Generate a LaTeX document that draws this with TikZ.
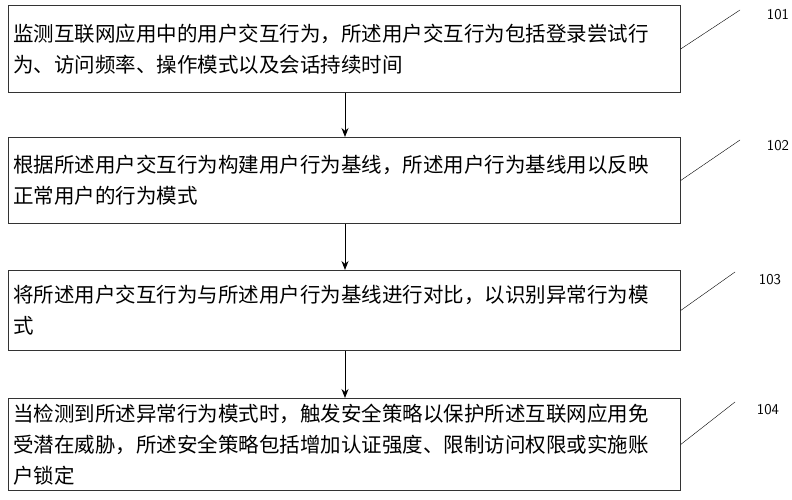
\documentclass[tikz,border=0pt]{standalone}
\usepackage{fontspec}
\newfontfamily\cjk{Noto Sans CJK SC}
\usetikzlibrary{arrows.meta}
\begin{document}
\begin{tikzpicture}[x=1pt,y=-1pt,
    stepbox/.style={draw=black!80, line width=0.8pt, anchor=north west, minimum width=672pt,
      text width=662pt, align=left, inner xsep=5pt, font=\cjk\fontsize{20.5}{31}\selectfont},
    tag/.style={font=\sffamily\fontsize{15}{15}\selectfont},
    flow/.style={-{Stealth[length=9pt,width=7pt]}, line width=1pt}]
    \useasboundingbox (0,0) rectangle (792,500);
    \node[stepbox, minimum height=87pt] (s1) at (8,5) {监测互联网应用中的用户交互行为，所述用户交互行为包括登录尝试行\\为、访问频率、操作模式以及会话持续时间};
    \node[stepbox, minimum height=86pt] (s2) at (8,137) {根据所述用户交互行为构建用户行为基线，所述用户行为基线用以反映\\正常用户的行为模式};
    \node[stepbox, minimum height=80pt] (s3) at (8,270) {将所述用户交互行为与所述用户行为基线进行对比，以识别异常行为模\\式};
    \node[stepbox, minimum height=92pt] (s4) at (8,398) {当检测到所述异常行为模式时，触发安全策略以保护所述互联网应用免\\受潜在威胁，所述安全策略包括增加认证强度、限制访问权限或实施账\\户锁定};
    % step numbers
    \node[tag] (t1) at (778,15) {101};
    \node[tag] (t2) at (778,146) {102};
    \node[tag] (t3) at (770,280) {103};
    \node[tag] (t4) at (768,410) {104};
    \coordinate (c1) at (740,10);
    \coordinate (c2) at (740,140);
    \coordinate (c3) at (735,272);
    \coordinate (c4) at (735,402);
    \draw (s1.east) -- (c1);
    \draw (s2.east) -- (c2);
    \draw (s3.east) -- (c3);
    \draw (s4.east) -- (c4);
    % arrows
    \draw[flow] (s1.south -| 345,0) -- (s2.north -| 345,0);
    \draw[flow] (s2.south -| 345,0) -- (s3.north -| 345,0);
    \draw[flow] (s3.south -| 345,0) -- (s4.north -| 345,0);
\end{tikzpicture}
\end{document}
